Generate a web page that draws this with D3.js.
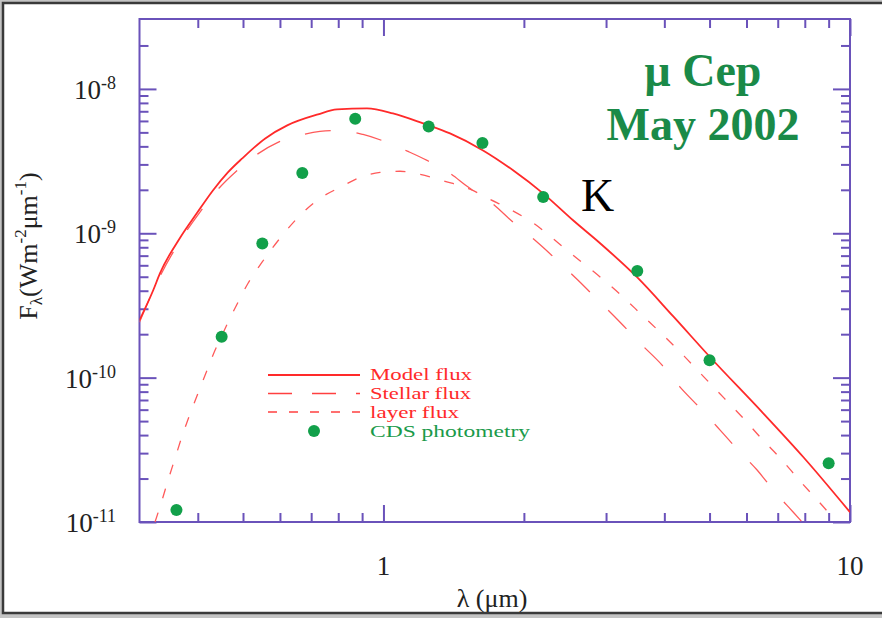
<!DOCTYPE html>
<html>
<head>
<meta charset="utf-8">
<script src="https://cdn.jsdelivr.net/npm/d3@7"></script>
<style>
  html, body { margin: 0; padding: 0; background: #ffffff; }
  svg { display: block; }
  text { font-family: "Liberation Serif", "DejaVu Serif", serif; }
</style>
</head>
<body>
<svg id="chart" width="882" height="618"></svg>
<script>
// ---------------- data ----------------
const modelLam  = [0.30,0.321,0.332,0.366,0.398,0.431,0.464,0.498,0.558,0.622,0.724,0.795,0.922,1.048,1.216,1.389,1.635,1.896,2.198,2.549,2.913,3.496,4.176,5.01,6.51,7.94,10.0];
const modelFlux = [2.50e-10,4.03e-10,5.29e-10,9.24e-10,1.375e-9,1.98e-9,2.64e-9,3.30e-9,4.54e-9,5.59e-9,6.66e-9,7.21e-9,7.33e-9,6.77e-9,5.77e-9,4.92e-9,3.75e-9,2.73e-9,1.89e-9,1.23e-9,8.53e-10,4.96e-10,2.665e-10,1.39e-10,5.68e-11,2.82e-11,1.17e-11];

const stellarLam  = [0.30,0.332,0.366,0.404,0.436,0.486,0.536,0.594,0.663,0.731,0.807,0.904,1.018,1.129,1.240,1.389,1.511,1.709,1.896,2.113,2.356,2.613,2.884,3.215,3.584,3.956,4.323,4.771,5.268,5.756,6.322,6.909,7.551,7.894];
const stellarFlux = [2.42e-10,5.04e-10,8.81e-10,1.398e-9,1.921e-9,2.73e-9,3.52e-9,4.26e-9,4.77e-9,5.08e-9,5.16e-9,4.84e-9,4.26e-9,3.69e-9,3.20e-9,2.60e-9,2.115e-9,1.613e-9,1.192e-9,8.94e-10,6.50e-10,4.73e-10,3.44e-10,2.42e-10,1.679e-10,1.221e-10,8.60e-11,6.15e-11,4.33e-11,3.15e-11,2.29e-11,1.61e-11,1.173e-11,1.0e-11];

const layerLam  = [0.3239,0.3354,0.3455,0.3576,0.3702,0.3849,0.4005,0.4187,0.4355,0.4508,0.4690,0.4879,0.5126,0.5493,0.6002,0.6627,0.7312,0.8071,0.8911,0.9833,1.085,1.198,1.355,1.533,1.692,1.868,2.113,2.332,2.613,2.884,3.215,3.584,3.976,4.410,4.866,5.373,5.929,6.479,7.117,7.817,8.587,9.292];
const layerFlux = [1.0e-11,1.42e-11,1.953e-11,2.77e-11,3.94e-11,5.59e-11,7.81e-11,1.127e-10,1.550e-10,1.968e-10,2.58e-10,3.33e-10,4.51e-10,6.30e-10,9.24e-10,1.332e-9,1.747e-9,2.08e-9,2.44e-9,2.64e-9,2.69e-9,2.56e-9,2.29e-9,2.02e-9,1.719e-9,1.466e-9,1.154e-9,8.94e-10,6.61e-10,5.12e-10,3.78e-10,2.71e-10,1.968e-10,1.409e-10,1.008e-10,7.21e-11,5.16e-11,3.75e-11,2.73e-11,1.921e-11,1.375e-11,1.03e-11];

const photLam  = [0.36,0.45,0.55,0.67,0.87,1.25,1.63,2.2,3.5,5.0,9.0];
const photFlux = [1.21e-11,1.92e-10,8.48e-10,2.615e-9,6.22e-9,5.50e-9,4.22e-9,1.783e-9,5.48e-10,1.322e-10,2.55e-11];

const xMajorTicks = [1, 10];
const xMinorTicks = [0.4,0.5,0.6,0.7,0.8,0.9,2,3,4,5,6,7,8,9];
const xTickLabels = ["1", "10"];
const yMajorTicks = [1e-11, 1e-10, 1e-9, 1e-8];
const yMinorTicks = [2e-11,3e-11,4e-11,5e-11,6e-11,7e-11,8e-11,9e-11,
                     2e-10,3e-10,4e-10,5e-10,6e-10,7e-10,8e-10,9e-10,
                     2e-9,3e-9,4e-9,5e-9,6e-9,7e-9,8e-9,9e-9,2e-8];
const yTickExponents = ["-11", "-10", "-9", "-8"];

const legendLabels = ["Model flux", "Stellar flux", "layer flux", "CDS photometry"];
const titleLines = ["\u03bc Cep", "May 2002"];

// ---------------- layout ----------------
const W = 882, H = 618;
const L = 139.5, R = 850, T = 19, B = 522;
const frameColor = "#6a52ba";
const red = "#ff2a2a";
const green = "#12a04a";

const svg = d3.select("#chart");

// outer picture frame
svg.append("rect").attr("x", 0).attr("y", 0).attr("width", W).attr("height", H).attr("fill", "#c4c4c4");
svg.append("rect").attr("x", 3).attr("y", 3).attr("width", W + 20).attr("height", 610)
  .attr("fill", "#ffffff").attr("stroke", "#3a3a3a").attr("stroke-width", 2.5);

const x = d3.scaleLog().domain([0.3, 10]).range([L, R]);
const y = d3.scaleLog().domain([1e-11, 3.05e-8]).range([B, T]);

svg.append("clipPath").attr("id", "plotclip")
  .append("rect").attr("x", L).attr("y", T).attr("width", R - L).attr("height", B - T);

// axes ticks (inward)
function styleAxis(g) {
  g.select(".domain").remove();
  g.attr("color", frameColor);
  g.selectAll(".tick line").attr("stroke-width", 2);
  g.selectAll(".tick text").remove();
}
const majLen = 17, minLen = 9;
svg.append("g").attr("transform", `translate(0,${B})`)
  .call(d3.axisBottom(x).tickValues(xMajorTicks).tickSize(-majLen)).call(styleAxis);
svg.append("g").attr("transform", `translate(0,${B})`)
  .call(d3.axisBottom(x).tickValues(xMinorTicks).tickSize(-minLen)).call(styleAxis);
svg.append("g").attr("transform", `translate(0,${T})`)
  .call(d3.axisTop(x).tickValues(xMajorTicks).tickSize(-majLen)).call(styleAxis);
svg.append("g").attr("transform", `translate(0,${T})`)
  .call(d3.axisTop(x).tickValues(xMinorTicks).tickSize(-minLen)).call(styleAxis);
svg.append("g").attr("transform", `translate(${L},0)`)
  .call(d3.axisLeft(y).tickValues(yMajorTicks).tickSize(-majLen)).call(styleAxis);
svg.append("g").attr("transform", `translate(${L},0)`)
  .call(d3.axisLeft(y).tickValues(yMinorTicks).tickSize(-minLen)).call(styleAxis);
svg.append("g").attr("transform", `translate(${R},0)`)
  .call(d3.axisRight(y).tickValues(yMajorTicks).tickSize(-majLen)).call(styleAxis);
svg.append("g").attr("transform", `translate(${R},0)`)
  .call(d3.axisRight(y).tickValues(yMinorTicks).tickSize(-minLen)).call(styleAxis);

// frame
svg.append("rect").attr("x", L).attr("y", T).attr("width", R - L).attr("height", B - T)
  .attr("fill", "none").attr("stroke", frameColor).attr("stroke-width", 2);

// curves
const line = d3.line().x(d => x(d[0])).y(d => y(d[1])).curve(d3.curveMonotoneX);
const plot = svg.append("g").attr("clip-path", "url(#plotclip)");
plot.append("path").datum(d3.zip(layerLam, layerFlux)).attr("d", line)
  .attr("fill", "none").attr("stroke", "#ff5a5a").attr("stroke-width", 1.3).attr("stroke-dasharray", "10,15");
plot.append("path").datum(d3.zip(stellarLam, stellarFlux)).attr("d", line)
  .attr("fill", "none").attr("stroke", "#ff5a5a").attr("stroke-width", 1.3).attr("stroke-dasharray", "26,26");
plot.append("path").datum(d3.zip(modelLam, modelFlux)).attr("d", line)
  .attr("fill", "none").attr("stroke", red).attr("stroke-width", 1.8);

// photometry
plot.selectAll("circle.phot").data(d3.zip(photLam, photFlux)).enter().append("circle")
  .attr("class", "phot").attr("cx", d => x(d[0])).attr("cy", d => y(d[1])).attr("r", 6)
  .attr("fill", green);

// tick labels
const tickFont = 27;
svg.selectAll("text.xt").data(xMajorTicks).enter().append("text")
  .attr("class", "xt").attr("x", d => x(d)).attr("y", 575)
  .attr("text-anchor", "middle").attr("font-size", tickFont).attr("fill", "#222")
  .text((d, i) => xTickLabels[i]);

yMajorTicks.forEach((v, i) => {
  const t = svg.append("text").attr("x", 116).attr("y", y(v) + 10)
    .attr("text-anchor", "end").attr("font-size", tickFont).attr("fill", "#222");
  t.append("tspan").text("10");
  t.append("tspan").attr("font-size", 18).attr("dy", -10).text(yTickExponents[i]);
});

// axis titles
const xt = svg.append("text").attr("x", 492).attr("y", 607).attr("text-anchor", "middle")
  .attr("font-size", 26).attr("fill", "#222");
xt.text("\u03bb (\u03bcm)");

const yt = svg.append("text").attr("transform", "translate(37,246) rotate(-90)")
  .attr("text-anchor", "middle").attr("font-size", 26).attr("fill", "#222");
yt.append("tspan").text("F");
yt.append("tspan").attr("font-size", 17).attr("dy", 5).text("\u03bb");
yt.append("tspan").attr("dy", -5).text("(Wm");
yt.append("tspan").attr("font-size", 17).attr("dy", -11).text("-2");
yt.append("tspan").attr("dy", 11).text("\u03bcm");
yt.append("tspan").attr("font-size", 17).attr("dy", -11).text("-1");
yt.append("tspan").attr("dy", 11).text(")");

// title
svg.selectAll("text.title").data(titleLines).enter().append("text")
  .attr("class", "title").attr("x", 703).attr("y", (d, i) => 86 + i * 54)
  .attr("text-anchor", "middle").attr("font-size", 46).attr("font-weight", "bold")
  .attr("fill", "#1a8a48").text(d => d);

svg.append("text").attr("x", 581).attr("y", 211).attr("font-size", 46).attr("fill", "#000").text("K");

// legend
const lgX0 = 268, lgX1 = 360, lgTx = 370;
const lgY = [375, 393.5, 412, 431];
const lgBase = [380, 399, 418, 437];
const lgWidths = [102, 101, 89, 160];
svg.append("line").attr("x1", lgX0).attr("x2", lgX1).attr("y1", lgY[0]).attr("y2", lgY[0])
  .attr("stroke", red).attr("stroke-width", 1.8);
svg.append("line").attr("x1", lgX0).attr("x2", lgX1).attr("y1", lgY[1]).attr("y2", lgY[1])
  .attr("stroke", "#ff4040").attr("stroke-width", 1.5).attr("stroke-dasharray", "24,20");
svg.append("line").attr("x1", lgX0).attr("x2", lgX1).attr("y1", lgY[2]).attr("y2", lgY[2])
  .attr("stroke", "#ff4040").attr("stroke-width", 1.5).attr("stroke-dasharray", "9,12");
svg.append("circle").attr("cx", 314).attr("cy", lgY[3]).attr("r", 6).attr("fill", green);
legendLabels.forEach((s, i) => {
  svg.append("text").attr("x", lgTx).attr("y", lgBase[i]).attr("font-size", 17)
    .attr("textLength", lgWidths[i]).attr("lengthAdjust", "spacingAndGlyphs")
    .attr("fill", i < 3 ? "#ff2a2a" : "#1a9a4a").text(s);
});
</script>
</body>
</html>
